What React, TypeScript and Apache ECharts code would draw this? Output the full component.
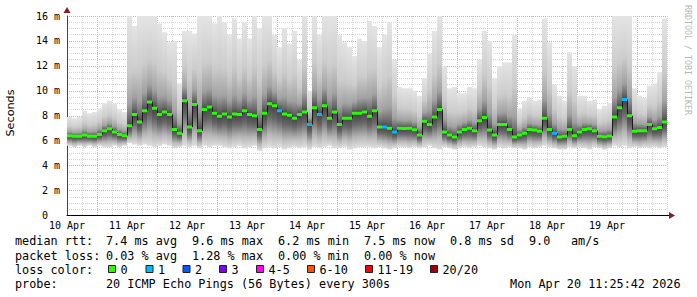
import React, { useEffect, useRef } from 'react';
import * as echarts from 'echarts';

// ---------- data ----------
const dayLabels = ['10 Apr', '11 Apr', '12 Apr', '13 Apr', '14 Apr', '15 Apr', '16 Apr', '17 Apr', '18 Apr', '19 Apr'];
const bucketHours = 2; // each smoke column covers 2 hours, 120 columns over 10 days

// median RTT per column (ms)
const median = [
  6.4, 6.35, 6.35, 6.45, 6.35, 6.35, 6.5, 6.8, 6.95, 6.7, 6.5, 6.4,
  7.2, 8.1, 7.5, 8.4, 9.1, 8.6, 8.1, 8.3, 8.1, 6.9, 6.6, 9.2, 7.1, 8.9, 6.8, 8.5, 8.7, 8.2,
  7.95, 8.15, 7.9, 8.15, 8.1, 8.4, 8.1, 8.0, 6.9, 8.2, 8.96, 8.8, 8.4, 8.15, 8.05, 7.8, 8.1, 8.3, 7.3, 8.65,
  8.1, 8.8, 7.8, 8.3, 7.3, 7.8, 7.8, 8.2, 8.2, 8.3,
  7.95, 8.4, 7.1, 7.1, 7.0, 6.7, 7.0, 6.98, 7.0, 6.88, 6.45, 7.55, 7.3, 7.9, 8.5, 6.7, 6.45, 6.3, 6.7, 6.9,
  7.0, 6.8, 7.6, 7.85, 6.85, 6.45, 7.3, 7.3, 6.9, 6.3,
  6.45, 6.6, 6.9, 6.85, 6.75, 7.8, 6.9, 6.6, 6.3, 6.35, 6.9, 6.4, 6.7, 6.9, 6.95, 6.8, 6.35, 6.32, 6.37, 7.9,
  8.65, 9.3, 8.0, 6.75, 6.8, 6.8, 7.3, 6.95, 7.05, 7.5,
];

// top of the smoke (slowest pings) per column (ms)
const smokeHigh = [
  7.9, 7.8, 7.9, 8.4, 8.2, 8.3, 8.6, 9.0, 9.2, 9.0, 8.5, 8.3,
  16, 15.2, 16, 16, 16, 16, 15.4, 14.7, 13.9, 14, 10.6, 14.8, 14.8, 14.6, 16, 16, 16, 15.4,
  16, 15.5, 14.5, 15.8, 14.2, 15.5, 14.2, 16, 15, 16, 16, 14.5, 13.5, 15, 13.8, 14.8, 12.5, 16, 10, 16,
  14.5, 16, 16, 16, 14.5, 13.9, 13.5, 12.8, 14.2, 14.0,
  15.6, 15.2, 13.5, 14.5, 15.5, 12.5, 10.3, 10.2, 10.2, 10.0, 9.6, 11.0, 13.0, 14.8, 16, 12, 10.2, 10.3, 9.8, 9.8,
  10.3, 10.2, 12.5, 14.8, 14, 11, 12, 12.3, 12.3, 14.5,
  8.6, 9.2, 9.5, 9.2, 9.3, 15.8, 13.9, 10.5, 9.6, 9.2, 13.1, 12.0, 9.6, 9.6, 9.2, 9.3, 8.5, 8.8, 9.0, 16,
  16, 16, 16, 10.2, 9.6, 9.4, 10.4, 10.6, 11.5, 15.8,
];

// bottom of the smoke (fastest pings) per column (ms)
const smokeLow = [
  5.6, 5.5, 5.6, 5.5, 5.6, 5.5, 5.6, 5.5, 5.5, 5.6, 5.5, 5.6,
  5.8, 5.7, 5.6, 5.7, 5.6, 5.5, 5.6, 5.7, 5.6, 5.4, 5.5, 5.6, 5.5, 5.6, 5.4, 5.6, 5.5, 5.6,
  5.6, 5.5, 5.4, 5.5, 5.6, 5.4, 5.5, 5.6, 5.2, 5.4, 5.5, 5.4, 5.5, 5.3, 5.4, 5.5, 5.4, 5.5, 5.3, 5.5,
  5.4, 5.5, 5.6, 5.4, 5.4, 5.5, 5.3, 5.4, 5.5, 5.5,
  5.5, 5.4, 5.5, 5.4, 5.3, 5.4, 5.5, 5.5, 5.4, 5.5, 5.4, 5.5, 5.6, 5.4, 5.3, 5.5, 5.4, 5.3, 5.4, 5.5,
  5.4, 5.5, 5.6, 5.5, 5.4, 5.3, 5.5, 5.4, 5.5, 5.4,
  5.4, 5.3, 5.5, 5.4, 5.5, 5.6, 5.5, 5.4, 5.3, 5.3, 5.5, 5.4, 5.5, 5.4, 5.3, 5.5, 5.4, 5.3, 5.4, 5.6,
  5.5, 5.6, 5.4, 5.5, 5.4, 5.5, 5.4, 5.5, 5.4, 5.5,
];

// [column index, lost pings]
const lossEvents: [number, number][] = [[42, 1], [48, 1], [50, 1], [63, 1], [65, 1], [97, 1], [111, 1]];

const lossLabels = ['0', '1', '2', '3', '4-5', '6-10', '11-19', '20/20'];
const lossColors = ['#26ff00', '#00b8ff', '#0059ff', '#7e00ff', '#ff00ff', '#ff5500', '#ff0000', '#a10000'];

const rttStats = ['7.4 ms avg', '9.6 ms max', '6.2 ms min', '7.5 ms now', '0.8 ms sd', '9.0', 'am/s'];
const lossStats = ['0.03 % avg', '1.28 % max', '0.00 % min', '0.00 % now'];
const probeText = '20 ICMP Echo Pings (56 Bytes) every 300s';
const dateText = 'Mon Apr 20 11:25:42 2026';

// ---------- layout ----------
const MONO = 'DejaVu Sans Mono';
const GRAY = '#d4d4d4';
const RED = '#e8a4a4';
const LEFT = 67;
const RIGHT = 30;
const TOP = 16;
const BOTTOM = 81.5;

function lossColorIndex(n: number): number {
  if (n <= 0) return 0;
  if (n <= 3) return n;
  if (n <= 5) return 4;
  if (n <= 10) return 5;
  if (n <= 19) return 6;
  return 7;
}

export default function App() {
  const ref = useRef<HTMLDivElement>(null);

  useEffect(() => {
    if (!ref.current) return;
    const chart = echarts.init(ref.current, null, { renderer: 'svg' });
    const lossMap = new Map<number, number>(lossEvents);

    const smokeData = median.map((m, i) => [i * bucketHours, (i + 1) * bucketHours, smokeLow[i], m, smokeHigh[i]]);
    const medData = median.map((m, i) => [
      i * bucketHours, (i + 1) * bucketHours, m, i > 0 ? median[i - 1] : m, lossMap.get(i) ?? 0,
    ]);

    const txt = (text: string, x: number, y: number, extra: any = {}) => ({
      type: 'text', x, y, silent: true,
      style: { text, fill: '#000', font: `11.8px "${MONO}"`, verticalAlign: 'middle', align: 'left', ...extra },
    });

    const row1Y = 241, row2Y = 256, row3Y = 269.5, row4Y = 283.5;
    const statX = [106, 192, 278, 364, 450, 529, 571];
    const boxX = [108, 145.5, 182.5, 219, 256, 307, 365, 430];

    const graphics: any[] = [
      // axis title
      { type: 'text', x: 10, y: 113, rotation: Math.PI / 2, silent: true,
        style: { text: 'Seconds', fill: '#000', font: '11.2px "DejaVu Sans"', align: 'center', verticalAlign: 'middle' } },
      // watermark
      { type: 'text', x: 688, y: 60, rotation: -Math.PI / 2, silent: true,
        style: { text: 'RRDTOOL / TOBI OETIKER', fill: '#b8b8b8', font: `8.3px "${MONO}"`, align: 'center', verticalAlign: 'middle' } },
      // axis arrows
      { type: 'polygon', silent: true, shape: { points: [[63.5, 13], [70.5, 13], [67, 7]] }, style: { fill: '#8b1c1c' } },
      { type: 'line', silent: true, shape: { x1: 667, y1: 215.5, x2: 670, y2: 215.5 }, style: { stroke: '#000', lineWidth: 1 } },
      { type: 'polygon', silent: true, shape: { points: [[669, 212], [669, 219], [675, 215.5]] }, style: { fill: '#8b1c1c' } },
      // legend rows
      txt('median rtt:', 15, row1Y),
      ...rttStats.map((s, i) => txt(s, statX[i], row1Y)),
      txt('packet loss:', 15, row2Y),
      ...lossStats.map((s, i) => txt(s, statX[i], row2Y)),
      txt('loss color:', 15, row3Y),
      ...lossLabels.map((l, i) => txt(l, boxX[i] + 12.5, row3Y)),
      ...lossColors.map((c, i) => ({
        type: 'rect', silent: true, shape: { x: boxX[i] + 0.5, y: 265.5, width: 7, height: 7 },
        style: { fill: c, stroke: '#222', lineWidth: 1 },
      })),
      txt('probe:', 15, row4Y),
      txt(probeText, statX[0], row4Y),
      txt(dateText, 680.5, row4Y, { align: 'right' }),
    ];

    const option: any = {
      animation: false,
      backgroundColor: '#ffffff',
      grid: { left: LEFT, right: RIGHT, top: TOP, bottom: BOTTOM, containLabel: false },
      xAxis: {
        type: 'value', min: 0, max: 240, interval: 6,
        axisLine: { show: true, onZero: false, lineStyle: { color: '#000', width: 1 } },
        axisTick: { show: false },
        axisLabel: {
          show: true, margin: 5, color: '#000', fontFamily: MONO, fontSize: 10,
          showMinLabel: true, showMaxLabel: true,
          formatter: (v: number) => (v % 24 === 0 && v < 240 ? dayLabels[v / 24] : ''),
        },
        splitLine: { show: true, lineStyle: { color: [GRAY, GRAY, RED, GRAY], type: [1, 1], width: 1 } },
      },
      yAxis: {
        type: 'value', min: 0, max: 16, interval: 0.5,
        axisLine: { show: true, onZero: false, lineStyle: { color: '#444', width: 1 } },
        axisTick: { show: false },
        axisLabel: {
          show: true, margin: 7, color: '#000', fontFamily: MONO, fontSize: 10,
          formatter: (v: number) => (v === 0 ? '{z|0}' : v % 2 === 0 ? `${v} m` : ''),
          rich: { z: { padding: [0, 12, 0, 0], fontFamily: MONO, fontSize: 10, color: '#000' } },
        },
        splitLine: { show: true, lineStyle: { color: [RED, GRAY, GRAY, GRAY], type: [1, 1], width: 1 } },
      },
      series: [
        {
          type: 'custom', name: 'smoke', clip: true, z: 2,
          data: smokeData,
          encode: { x: [0, 1], y: [2, 3, 4] },
          renderItem: (params: any, api: any) => {
            const x0 = api.coord([api.value(0), 0])[0];
            const x1 = api.coord([api.value(1), 0])[0];
            const yLo = api.coord([0, api.value(2)])[1];
            const yMed = api.coord([0, api.value(3)])[1];
            const yHi = api.coord([0, api.value(4)])[1];
            const h = Math.max(1, yLo - yHi);
            const f = Math.min(0.98, Math.max(0.02, (yMed - yHi) / h));
            const g = 1 - f;
            return {
              type: 'rect',
              shape: { x: x0, y: yHi, width: x1 - x0, height: h },
              style: {
                fill: new echarts.graphic.LinearGradient(0, 0, 0, 1, [
                  { offset: 0, color: '#e4e4e4' },
                  { offset: f * 0.5, color: '#cccccc' },
                  { offset: f * 0.8, color: '#a2a2a2' },
                  { offset: f * 0.94, color: '#666666' },
                  { offset: f, color: '#444444' },
                  { offset: f + g * 0.3, color: '#666666' },
                  { offset: f + g * 0.7, color: '#b6b6b6' },
                  { offset: 1, color: '#dedede' },
                ]),
              },
            };
          },
        },
        {
          type: 'custom', name: 'median', clip: true, z: 3,
          data: medData,
          encode: { x: [0, 1], y: [2, 3] },
          renderItem: (params: any, api: any) => {
            const x0 = api.coord([api.value(0), 0])[0];
            const x1 = api.coord([api.value(1), 0])[0];
            const yMed = api.coord([0, api.value(2)])[1];
            const yPrev = api.coord([0, api.value(3)])[1];
            const color = lossColors[lossColorIndex(api.value(4))];
            return {
              type: 'group',
              children: [
                { type: 'line', shape: { x1: x0 + 0.5, y1: yPrev, x2: x0 + 0.5, y2: yMed }, style: { stroke: '#1a1a1a', lineWidth: 1 } },
                { type: 'rect', shape: { x: x0, y: yMed - 1.5, width: x1 - x0, height: 3 }, style: { fill: color } },
              ],
            };
          },
        },
      ],
      graphic: graphics,
    };

    chart.setOption(option);
    return () => chart.dispose();
  }, []);

  return (
    <div
      ref={ref}
      style={{ position: 'absolute', left: 0, top: 0, width: 697, height: 297, background: '#fff' }}
    />
  );
}
